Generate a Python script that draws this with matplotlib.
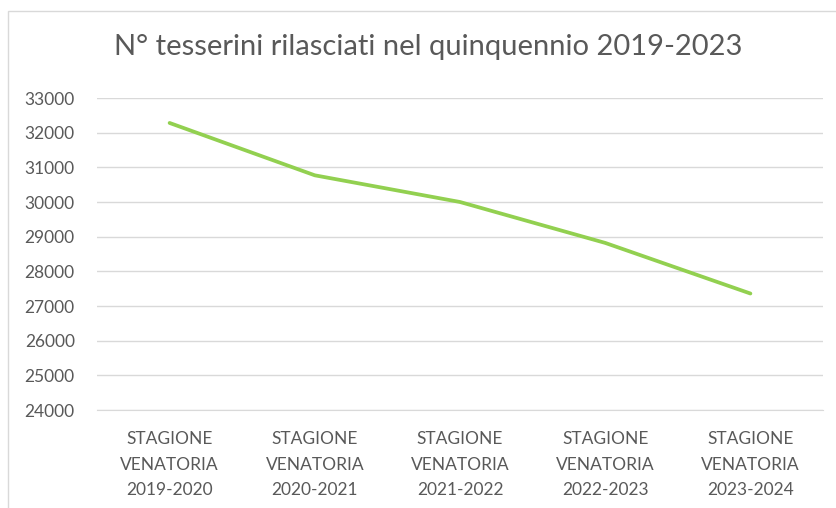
import matplotlib
matplotlib.use('Agg')
import matplotlib.pyplot as plt
from matplotlib.patches import Rectangle

plt.rcParams['font.family'] = ['Lato', 'DejaVu Sans']

stagioni = ['STAGIONE\nVENATORIA\n2019-2020', 'STAGIONE\nVENATORIA\n2020-2021',
            'STAGIONE\nVENATORIA\n2021-2022', 'STAGIONE\nVENATORIA\n2022-2023',
            'STAGIONE\nVENATORIA\n2023-2024']
tesserini = [32280, 30770, 30000, 28820, 27360]
y_ticks = list(range(24000, 33001, 1000))
titolo = 'N° tesserini rilasciati nel quinquennio 2019-2023'

text_col = '#595959'
grid_col = '#D9D9D9'

fig = plt.figure(figsize=(8.36, 5.08), dpi=100)
ax = fig.add_axes([97 / 836, 1 - 410 / 508, (823 - 97) / 836, (410 - 98) / 508])

# chart border
fig.patches.append(Rectangle((8 / 836, -0.1), 1.0, 1 - 11 / 508 + 0.1,
                             transform=fig.transFigure, fill=False,
                             edgecolor='#D9D9D9', linewidth=1.0))

x = list(range(len(stagioni)))
ax.plot(x, tesserini, color='#92D050', linewidth=2.7,
        solid_joinstyle='round', solid_capstyle='round', zorder=3)

ax.set_xlim(-0.5, len(stagioni) - 0.5)
ax.set_ylim(24000, 33000)
ax.set_yticks(y_ticks)
ax.set_yticklabels([str(v) for v in y_ticks])
ax.set_xticks(x)
ax.set_xticklabels(stagioni, linespacing=1.75)
ax.grid(axis='y', color=grid_col, linewidth=1.0)
ax.set_axisbelow(True)
for s in ['top', 'right', 'left']:
    ax.spines[s].set_visible(False)
ax.spines['bottom'].set_color(grid_col)
ax.tick_params(axis='both', length=0, labelsize=12.5, colors=text_col)
ax.tick_params(axis='y', pad=16)
ax.tick_params(axis='x', pad=15)

fig.text(428 / 836, 1 - 47 / 508, titolo, ha='center', va='center',
         fontsize=21, color=text_col)

fig.savefig('out.png', dpi=100)
